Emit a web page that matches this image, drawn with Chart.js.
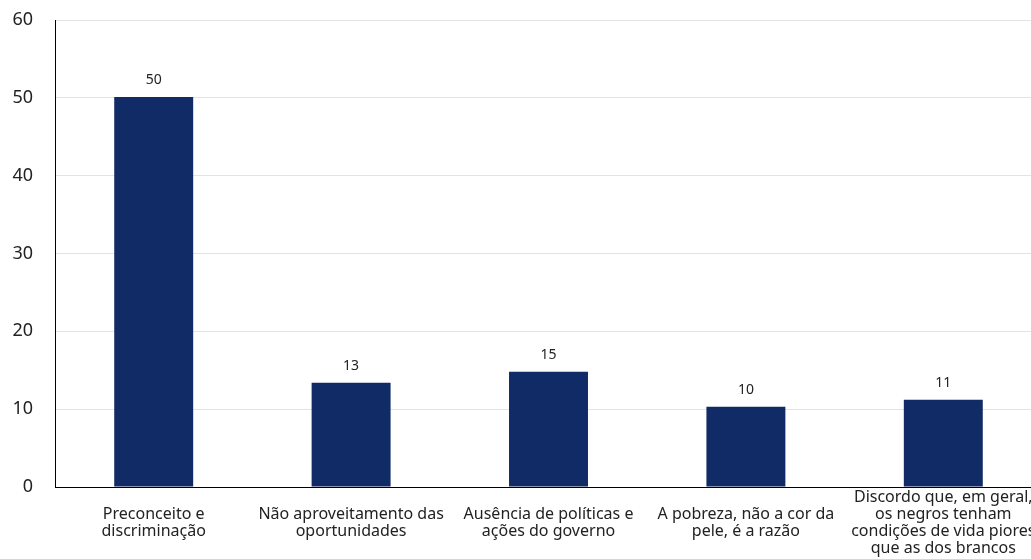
<!DOCTYPE html>
<html>
<head>
<meta charset="utf-8">
<script src="https://cdn.jsdelivr.net/npm/chart.js@4/dist/chart.umd.min.js"></script>
<style>
  html, body { margin: 0; padding: 0; background: #fff; overflow: hidden; }
  #wrap { width: 1042px; height: 559px; position: relative; }
</style>
</head>
<body>
<div id="wrap"><canvas id="myChart"></canvas></div>
<script>
var categories = [
  ['Preconceito e', 'discriminação'],
  ['Não aproveitamento das', 'oportunidades'],
  ['Ausência de políticas e', 'ações do governo'],
  ['A pobreza, não a cor da', 'pele, é a razão'],
  ['Discordo que, em geral,', 'os negros tenham', 'condições de vida piores', 'que as dos brancos']
];
var values = [50.1, 13.4, 14.8, 10.3, 11.2];
var valueLabels = ['50', '13', '15', '10', '11'];
var yTicks = [0, 10, 20, 30, 40, 50, 60];

// labels above bars
var barLabels = {
  id: 'barLabels',
  afterDatasetsDraw: function (chart) {
    var ctx = chart.ctx;
    var meta = chart.getDatasetMeta(0);
    ctx.save();
    ctx.font = '14px "Noto Sans"';
    ctx.fillStyle = '#222';
    ctx.textAlign = 'center';
    ctx.textBaseline = 'middle';
    meta.data.forEach(function (bar, i) {
      ctx.fillText(valueLabels[i], bar.x, bar.y - 17);
    });
    ctx.restore();
  }
};

var config = {
  type: 'bar',
  data: {
    labels: categories,
    datasets: [{
      data: values,
      backgroundColor: '#112b66',
      borderWidth: 0,
      barPercentage: 1,
      categoryPercentage: 0.4
    }]
  },
  options: {
    responsive: true,
    maintainAspectRatio: false,
    animation: false,
    layout: { padding: { top: 20, left: 0, right: 0, bottom: 0 } },
    plugins: {
      legend: { display: false },
      tooltip: { enabled: false }
    },
    scales: {
      x: {
        grid: { display: false, drawTicks: false },
        border: { color: '#000', width: 1 },
        ticks: {
          color: '#222',
          font: { family: 'Noto Sans', size: 16, lineHeight: 1.08 },
          maxRotation: 0,
          autoSkip: false,
          padding: 10,
          crossAlign: 'center'
        },
        afterFit: function (scale) {
          scale.height = 72;
          scale.paddingLeft = 0;
          scale.paddingRight = 0;
        }
      },
      y: {
        min: 0,
        max: 60,
        afterBuildTicks: function (scale) {
          scale.ticks = yTicks.map(function (v) { return { value: v }; });
        },
        grid: { color: '#e3e3e3', drawTicks: false },
        border: { color: '#000', width: 1 },
        ticks: {
          color: '#222',
          font: { family: 'Noto Sans', size: 18 },
          padding: 22
        },
        afterFit: function (scale) {
          scale.width = 55;
          scale.paddingTop = 0;
          scale.paddingBottom = 0;
        }
      }
    }
  },
  plugins: [barLabels]
};

var myChart = new Chart(document.getElementById('myChart'), config);
</script>
</body>
</html>
